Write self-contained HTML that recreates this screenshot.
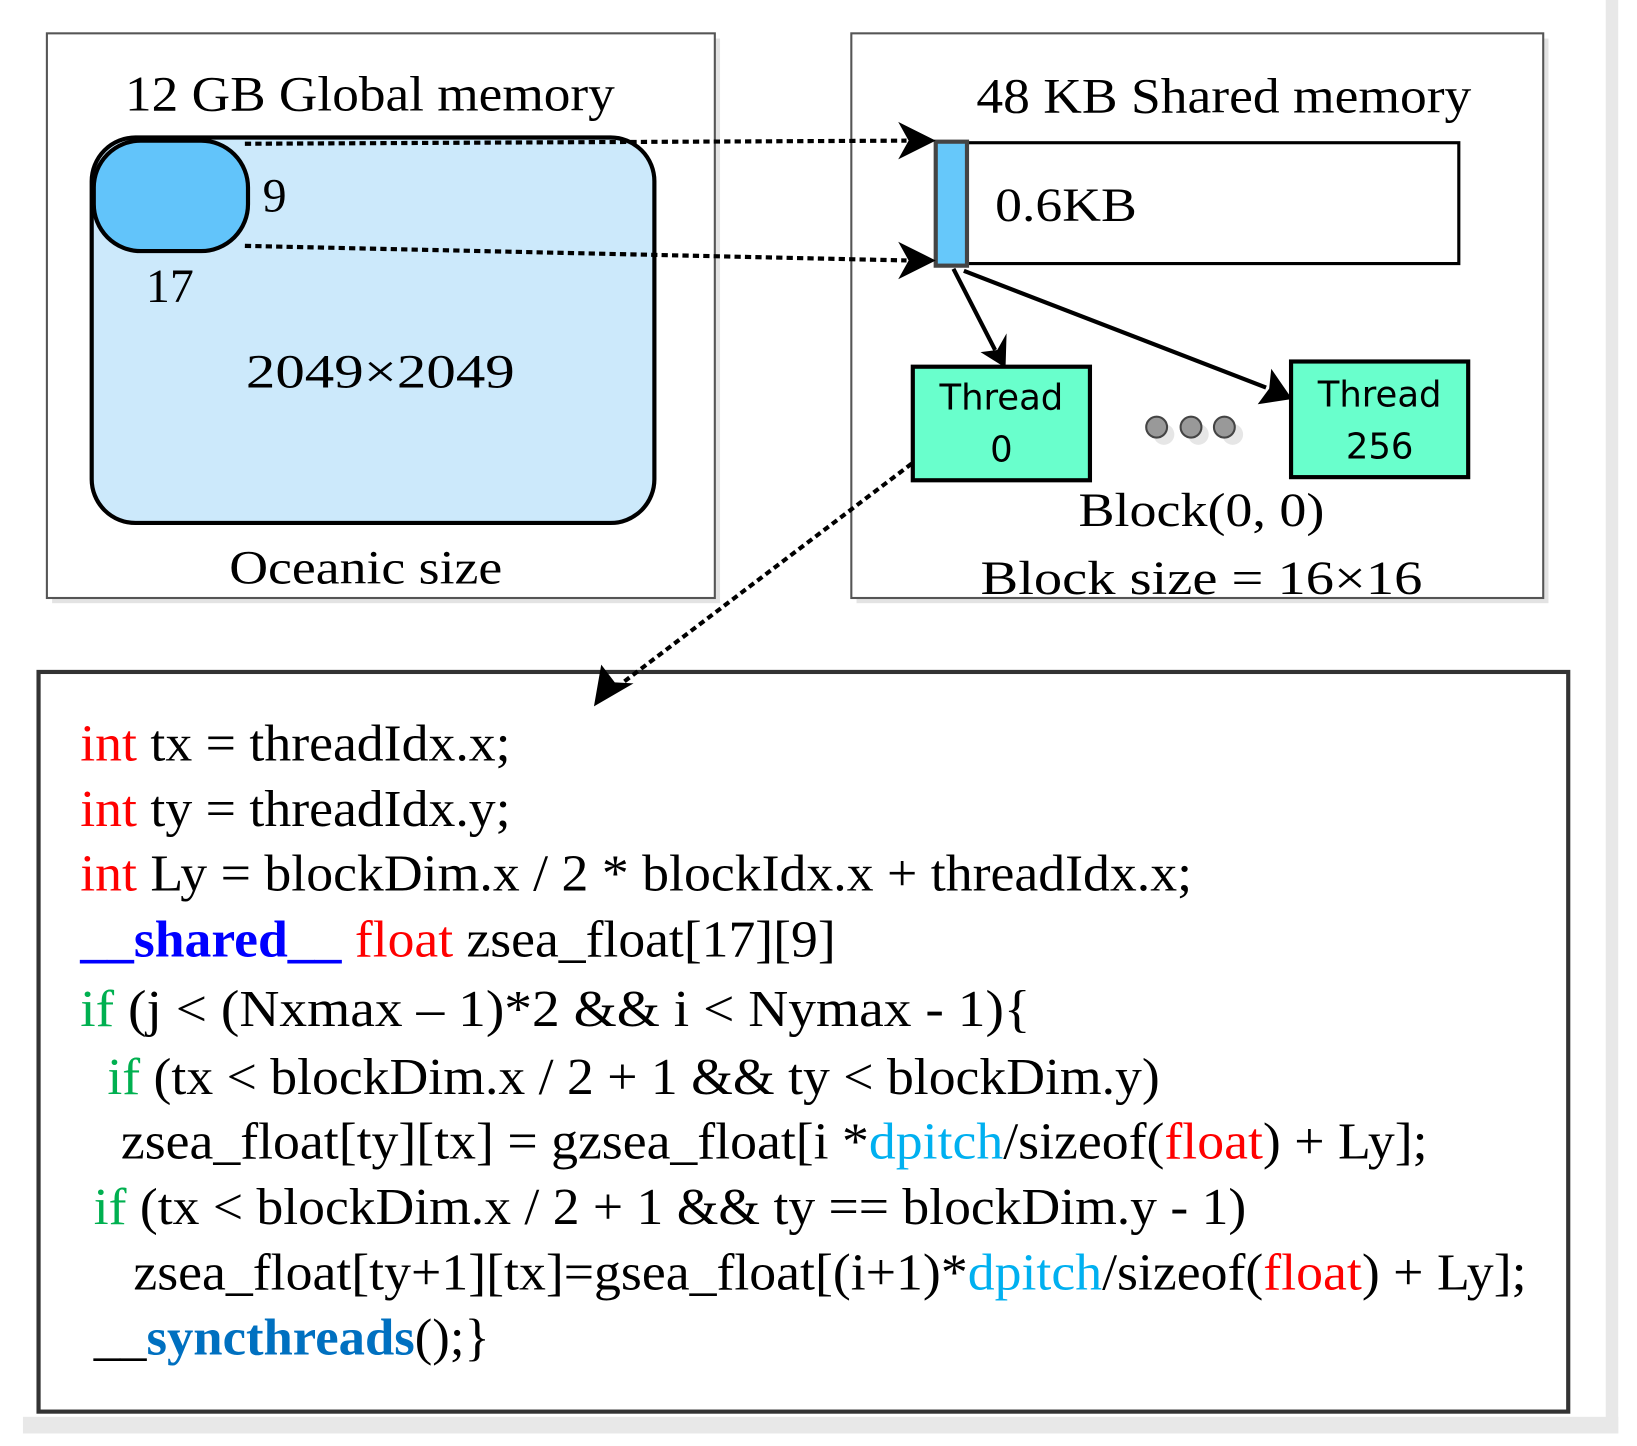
<!DOCTYPE html>
<html><head><meta charset="utf-8"><style>html,body{margin:0;padding:0;background:#fff;}svg{display:block}</style></head>
<body>
<svg width="1637" height="1446" viewBox="0 0 1571 1388" preserveAspectRatio="none" xmlns="http://www.w3.org/2000/svg">
<rect x="0" y="0" width="1571" height="1388" fill="#fff"/>
<rect x="1541" y="0" width="12" height="1376" fill="#e8e8e8"/>
<rect x="22" y="1360" width="1531" height="16" fill="#e8e8e8"/>
<rect x="50" y="37" width="641" height="542" fill="#e3e3e3"/>
<rect x="822" y="37" width="664" height="542" fill="#e3e3e3"/>
<rect x="45" y="32" width="641" height="542" fill="#fff" stroke="#555" stroke-width="2"/>
<rect x="817" y="32" width="664" height="542" fill="#fff" stroke="#555" stroke-width="2"/>

<g font-family="Liberation Serif, serif" fill="#000">
<text x="120" y="106" font-size="48" textLength="470" lengthAdjust="spacingAndGlyphs">12 GB Global memory</text>
<text x="937" y="108" font-size="48" textLength="475" lengthAdjust="spacingAndGlyphs">48 KB Shared memory</text>
</g>

<rect x="88" y="132" width="540" height="370" rx="42" fill="#cce9fb" stroke="#000" stroke-width="4"/>
<rect x="90" y="135" width="148" height="106" rx="45" fill="#62c4fa" stroke="#000" stroke-width="4"/>
<rect x="928" y="137" width="472" height="116" fill="#fff" stroke="#000" stroke-width="3"/>
<rect x="898" y="136" width="30" height="119" fill="#66c8fa" stroke="#444" stroke-width="4"/>

<g font-family="Liberation Serif, serif" fill="#000" font-size="46">
<text x="252" y="203">9</text>
<text x="140" y="290">17</text>
<text x="365" y="372" text-anchor="middle" textLength="258" lengthAdjust="spacingAndGlyphs">2049×2049</text>
<text x="351" y="560" text-anchor="middle" textLength="262" lengthAdjust="spacingAndGlyphs">Oceanic size</text>
<text x="955" y="212" textLength="136" lengthAdjust="spacingAndGlyphs">0.6KB</text>
<text x="1153" y="505" text-anchor="middle" textLength="236" lengthAdjust="spacingAndGlyphs">Block(0, 0)</text>
<text x="941" y="570" textLength="424" lengthAdjust="spacingAndGlyphs">Block size = 16×16</text>
</g>

<!-- code box -->
<rect x="37" y="645" width="1468" height="710" fill="#fff" stroke="#333" stroke-width="4"/>

<g stroke="#000" stroke-width="4" stroke-dasharray="6,4" fill="none">
<line x1="235" y1="138" x2="870" y2="135"/>
<line x1="235" y1="236" x2="870" y2="250"/>
<line x1="875" y1="445" x2="598" y2="655"/>
</g>
<path d="M898,135 L862,117 L872,135 L862,153 z" fill="#000"/>
<path d="M898,250 L862,232 L872,250 L862,268 z" fill="#000"/>
<path d="M570,678 L577,638 L590,655 L608,656 z" fill="#000"/>

<g stroke="#000" stroke-width="4">
<line x1="915" y1="258" x2="955" y2="336"/>
<line x1="925" y1="260" x2="1215" y2="372"/>
</g>
<path d="M965,353 L941,338 L957,336 L966,320 z" fill="#000"/>
<path d="M1240,383 L1207,388 L1218,373 L1220,354 z" fill="#000"/>

<rect x="876" y="352" width="170" height="109" fill="#69ffcc" stroke="#000" stroke-width="4"/>
<rect x="1239" y="347" width="170" height="111" fill="#69ffcc" stroke="#000" stroke-width="4"/>
<g font-family="DejaVu Sans, sans-serif" font-size="34" fill="#000" text-anchor="middle">
<text x="961" y="393">Thread</text><text x="961" y="443">0</text>
<text x="1324" y="390">Thread</text><text x="1324" y="440">256</text>
</g>
<g>
<circle cx="1117" cy="417" r="10" fill="#e6e6e6"/><circle cx="1150" cy="417" r="10" fill="#e6e6e6"/><circle cx="1183" cy="417" r="10" fill="#e6e6e6"/>
<circle cx="1110" cy="410" r="10" fill="#999" stroke="#444" stroke-width="2"/>
<circle cx="1143" cy="410" r="10" fill="#999" stroke="#444" stroke-width="2"/>
<circle cx="1175" cy="410" r="10" fill="#999" stroke="#444" stroke-width="2"/>
</g>

<g font-family="Liberation Serif, serif" font-size="50" fill="#000">
<text x="77" y="730" textLength="413" lengthAdjust="spacingAndGlyphs"><tspan fill="#f00">int</tspan> tx = threadIdx.x;</text>
<text x="77" y="793" textLength="413" lengthAdjust="spacingAndGlyphs"><tspan fill="#f00">int</tspan> ty = threadIdx.y;</text>
<text x="77" y="855" textLength="1067" lengthAdjust="spacingAndGlyphs"><tspan fill="#f00">int</tspan> Ly = blockDim.x / 2 * blockIdx.x + threadIdx.x;</text>
<text x="77" y="918" textLength="725" lengthAdjust="spacingAndGlyphs"><tspan fill="#00f" font-weight="bold">__shared__</tspan> <tspan fill="#f00">float</tspan> zsea_float[17][9]</text>
<text x="77" y="985" textLength="912" lengthAdjust="spacingAndGlyphs"><tspan fill="#00b050">if</tspan> (j &lt; (Nxmax  –  1)*2 &amp;&amp; i &lt; Nymax  - 1){</text>
<text x="103" y="1050" textLength="1010" lengthAdjust="spacingAndGlyphs"><tspan fill="#00b050">if</tspan> (tx &lt; blockDim.x / 2 + 1 &amp;&amp; ty &lt; blockDim.y)</text>
<text x="116" y="1112" textLength="1254" lengthAdjust="spacingAndGlyphs">zsea_float[ty][tx] = gzsea_float[i *<tspan fill="#00b0f0">dpitch</tspan>/sizeof(<tspan fill="#f00">float</tspan>) + Ly];</text>
<text x="90" y="1175" textLength="1106" lengthAdjust="spacingAndGlyphs"><tspan fill="#00b050">if</tspan> (tx &lt; blockDim.x / 2 + 1 &amp;&amp; ty == blockDim.y - 1)</text>
<text x="128" y="1238" textLength="1337" lengthAdjust="spacingAndGlyphs">zsea_float[ty+1][tx]=gsea_float[(i+1)*<tspan fill="#00b0f0">dpitch</tspan>/sizeof(<tspan fill="#f00">float</tspan>) + Ly];</text>
<text x="90" y="1300" textLength="380" lengthAdjust="spacingAndGlyphs">__<tspan fill="#0070c0" font-weight="bold">syncthreads</tspan>();}</text>
</g>
</svg>
</body></html>
